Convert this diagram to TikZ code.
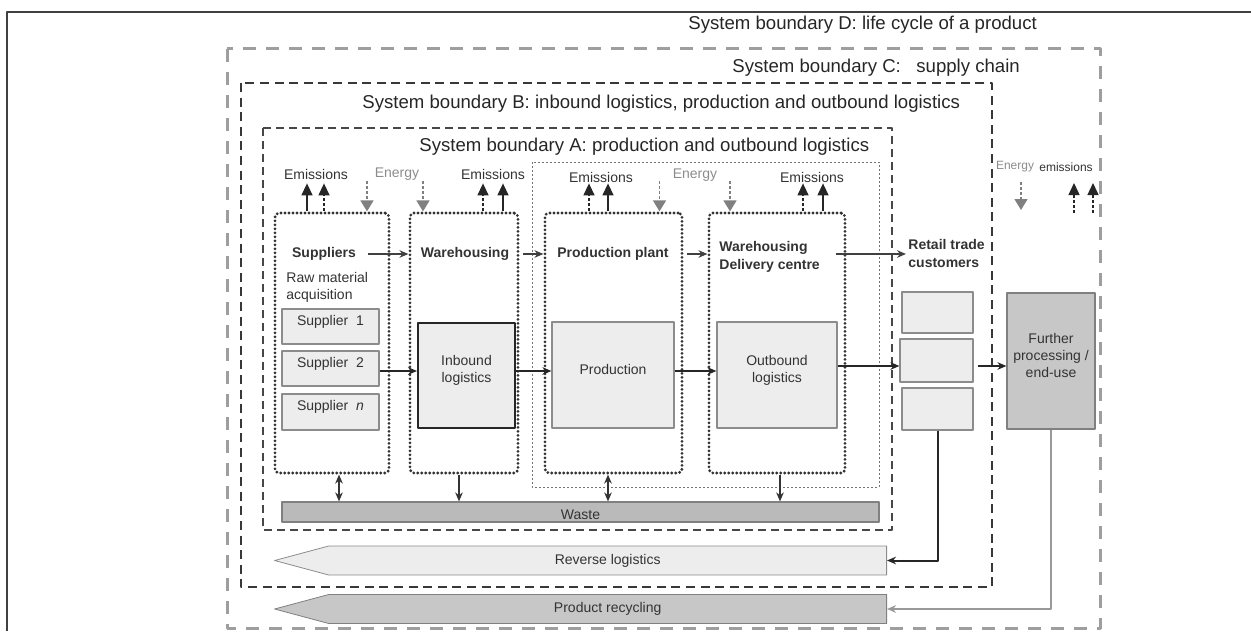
\documentclass[tikz,border=0pt]{standalone}
\usepackage{fontspec}
\setmainfont{Liberation Sans}
\usetikzlibrary{arrows.meta,fit,calc,shapes.symbols}

\tikzset{
  bndD/.style={draw=black!38, line width=1.5pt, dash pattern=on 6.5pt off 5pt},
  bndC/.style={draw=black!78, line width=1.4pt, dash pattern=on 4.5pt off 2.8pt},
  bndB/.style={draw=black!72, line width=1pt, dash pattern=on 4pt off 2.5pt},
  bndA/.style={draw=black!55, line width=0.5pt, dash pattern=on 1pt off 1pt},
  title/.style={font=\fontsize{9.3}{11}\selectfont, text=black!85, inner sep=0pt},
  procbox/.style={draw=black!80, line width=1.6pt, dash pattern=on 0pt off 2pt, line cap=round, rounded corners=2pt, inner sep=0pt},
  stipbox/.style={draw=black!45, line width=0.6pt, fill=black!7, inner sep=0pt, font=\fontsize{7}{8.5}\selectfont, text=black!80, align=center},
  greybox/.style={stipbox, fill=black!22, draw=black!50},
  hdr/.style={font=\bfseries\fontsize{7}{9}\selectfont, text=black!80, inner sep=1pt, align=left},
  lbl/.style={font=\fontsize{7}{8.5}\selectfont, text=black!80, inner sep=1pt, align=left},
  enlbl/.style={lbl, text=black!45},
  emis/.style={draw=black!85, line width=0.7pt, -{Triangle[length=6pt,width=5.5pt]}},
  ener/.style={draw=black!50, line width=0.7pt, dash pattern=on 1.5pt off 1pt, -{Triangle[length=5.5pt,width=6.5pt]}},
  mflow/.style={draw=black!85, line width=1pt, ->},
  hflow/.style={draw=black!75, line width=0.6pt, ->},
  wflow/.style={draw=black!80, line width=0.9pt},
  gflow/.style={draw=black!40, line width=0.7pt, ->},
  bar/.style={signal, signal to=west, signal pointer angle=30, inner sep=0pt, minimum width=306pt, minimum height=14.5pt, anchor=east, font=\fontsize{7}{8.5}\selectfont, text=black!80}
}

\begin{document}
\begin{tikzpicture}[x=0.5pt, y=-0.5pt, line join=round, >={Stealth[length=4.5pt,width=3.8pt]}]
\useasboundingbox (0,0) rectangle (1251,631);

% frame
\draw[black!75, line width=0.6pt] (7,631) -- (7,12) -- (1251,12);

% system boundaries
\draw[bndD] (227,49) rectangle (1100,628);
\draw[bndC] (241,83) rectangle (992,587);
\draw[bndB] (263,128) rectangle (892,530);
\draw[bndA] (532,162) rectangle (879,487);

\node[title, anchor=west] (tD) at (688,25) {System boundary D: life cycle of a product};
\node[title, anchor=west] (tC) at (732,68) {System boundary C:\ \ \ supply chain};
\node[title, anchor=west] (tB) at (362,104) {System boundary B: inbound logistics, production and outbound logistics};
\node[title, anchor=west] (tA) at (419,147) {System boundary A: production and outbound logistics};

% process stages
\node[procbox, fit={(275,213) (389,473)}] (sup) {};
\node[procbox, fit={(410,213) (518,473)}] (wh) {};
\node[procbox, fit={(545,213) (682,473)}] (pp) {};
\node[procbox, fit={(709,213) (845,473)}] (wd) {};

\node[hdr] (lSup) at (324,254) {Suppliers};
\node[lbl, anchor=west] (lRaw) at (284,287) {Raw material\\acquisition};
\node[hdr] (lWh) at (465,254) {Warehousing};
\node[hdr] (lPP) at (613,254) {Production plant};
\node[hdr, anchor=west] (lWD) at (717,257) {Warehousing\\Delivery centre};
\node[hdr, anchor=west] (lRet) at (906,253) {Retail trade\\customers};

% inner boxes
\node[stipbox, fit={(282,309) (379,344)}] (s1) {Supplier\ \ 1};
\node[stipbox, fit={(282,351) (379,386)}] (s2) {Supplier\ \ 2};
\node[stipbox, fit={(282,394) (379,430)}] (sn) {Supplier\ \ \textit{n}};
\node[stipbox, draw=black!85, line width=1pt, fit={(418,323) (515,428)}] (inb) {Inbound\\logistics};
\node[stipbox, fit={(552,322) (674,428)}] (prod) {Production};
\node[stipbox, fit={(717,322) (837,428)}] (outb) {Outbound\\logistics};
\node[stipbox, fit={(902,292) (973,333)}] (r1) {};
\node[stipbox, fit={(900,339) (973,382)}] (r2) {};
\node[stipbox, fit={(902,388) (973,430)}] (r3) {};
\node[greybox, fit={(1007,293) (1095,429)}] (fur) {Further\\processing /\\end-use};

% waste and return flows
\node[greybox, fill=black!27, fit={(282,502) (879,522)}] (waste) {};
\node[lbl] (lWaste) at ($(waste.center)+(0,3)$) {Waste};
\node[bar, draw=black!45, fill=black!7] (rev) at (887,560.5) {Reverse logistics};
\node[bar, draw=black!50, fill=black!22] (rec) at (887,609) {Product recycling};

% material flow
\coordinate (rowA) at (0,371);
\coordinate (rowB) at (0,366);
\draw[hflow, shorten <=5pt] (lSup.east) -- (lSup.east -| wh.west);
\draw[hflow, shorten <=6pt] (lWh.east) -- (lWh.east -| pp.west);
\draw[hflow, shorten <=8pt] (lPP.east) -- (lPP.east -| wd.west);
\draw[hflow, line width=0.8pt, shorten <=7pt] (lWD.east |- lPP) -- (lRet.west |- lPP);
\draw[mflow] (s2.east |- rowA) -- (inb.west |- rowA);
\draw[mflow] (inb.east |- rowA) -- (prod.west |- rowA);
\draw[mflow] (prod.east |- rowA) -- (outb.west |- rowA);
\draw[mflow] (outb.east |- rowB) -- (r2.west |- rowB);
\draw[mflow, shorten <=2pt] (r2.east |- rowB) -- (fur.west |- rowB);
\draw[mflow] (r3.south) |- (rev.east);
\draw[gflow] (fur.south) |- (rec.east);

% waste arrows
\coordinate (wS) at ($(sup.south)+(7,0)$);
\coordinate (wW) at ($(wh.south)+(-5,0)$);
\coordinate (wP) at ($(pp.south)+(-5.5,0)$);
\coordinate (wD) at ($(wd.south)+(3,0)$);
\draw[wflow, <->] (wS) -- (wS |- waste.north);
\draw[wflow, ->] (wW) -- (wW |- waste.north);
\draw[wflow, <->] (wP) -- (wP |- waste.north);
\draw[wflow, line width=1.3pt, ->] (wD) -- (wD |- waste.north);

% emissions and energy
\node[lbl] (lE1) at (316,174) {Emissions};
\node[enlbl] (lN1) at (397,174) {Energy};
\node[lbl] (lE2) at (493,174) {Emissions};
\node[lbl] (lE3) at (601,177) {Emissions};
\node[enlbl] (lN2) at (695,175) {Energy};
\node[lbl] (lE4) at (812,177) {Emissions};
\node[enlbl, font=\fontsize{6}{7}\selectfont] (lN3) at (1015,167) {Energy};
\node[lbl, font=\fontsize{6}{7}\selectfont] (lE5) at (1066,167) {emissions};

\draw[emis] ($(sup.north)+(-25,0)$) -- ++(0,-28);
\draw[emis, dash pattern=on 1.5pt off 1pt] ($(sup.north)+(-8,0)$) -- ++(0,-28);
\draw[ener] ($(sup.north)+(35,-30)$) -- ++(0,30);
\draw[ener] ($(wh.north)+(-41,-30)$) -- ++(0,30);
\draw[emis, dash pattern=on 1.5pt off 1pt] ($(wh.north)+(19,0)$) -- ++(0,-28);
\draw[emis] ($(wh.north)+(39,0)$) -- ++(0,-28);
\draw[emis, dash pattern=on 1.5pt off 1pt] ($(pp.north)+(-24.5,0)$) -- ++(0,-28);
\draw[emis] ($(pp.north)+(-5.5,0)$) -- ++(0,-28);
\draw[ener] ($(pp.north)+(46,-30)$) -- ++(0,30);
\draw[ener] ($(wd.north)+(-47,-30)$) -- ++(0,30);
\draw[emis, dash pattern=on 1.5pt off 1pt] ($(wd.north)+(26,0)$) -- ++(0,-28);
\draw[emis] ($(wd.north)+(46,0)$) -- ++(0,-28);
\draw[ener] ($(lN3)+(6,15)$) -- ++(0,28);
\draw[emis, dash pattern=on 1.5pt off 1pt] ($(lE5)+(8,46)$) -- ++(0,-30);
\draw[emis, dash pattern=on 1.5pt off 1pt] ($(lE5)+(27,46)$) -- ++(0,-30);
\end{tikzpicture}
\end{document}
